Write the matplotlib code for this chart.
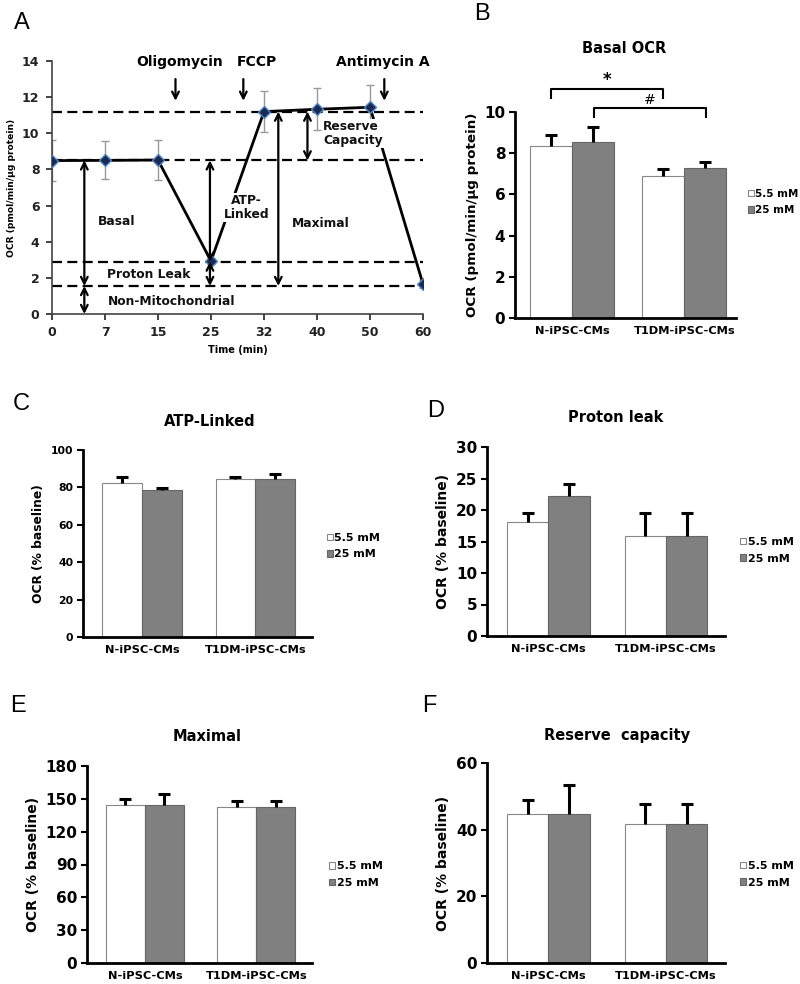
import numpy as np
import matplotlib
matplotlib.use("Agg")
import matplotlib.pyplot as plt

plt.rcParams['font.family'] = ['DejaVu Sans']
plt.rcParams['font.weight'] = 'bold'

# panel A: seahorse trace
times = ['0', '7', '15', '25', '32', '40', '50', '60']
ocr_mean = [8.49, 8.50, 8.52, 2.93, 11.20, 11.33, 11.44, 1.66]
ocr_sd = [1.15, 1.05, 1.10, 0.15, 1.15, 1.17, 1.25, 0.20]
levels = [11.2, 8.5, 2.9, 1.55]

# bar panels B-F
groups = ['N-iPSC-CMs', 'T1DM-iPSC-CMs']
conditions = ['5.5 mM', '25 mM']

basal_low = [8.36, 6.90]
basal_low_err = [0.54, 0.33]
basal_high = [8.56, 7.27]
basal_high_err = [0.73, 0.29]

atp_low = [82.2, 84.6]
atp_low_err = [3.5, 0.8]
atp_high = [78.4, 84.5]
atp_high_err = [1.4, 2.6]

leak_low = [18.1, 15.9]
leak_low_err = [1.4, 3.6]
leak_high = [22.2, 15.9]
leak_high_err = [1.9, 3.6]

max_low = [144.6, 142.2]
max_low_err = [5.2, 5.8]
max_high = [144.6, 142.2]
max_high_err = [9.4, 5.8]

res_low = [44.7, 41.7]
res_low_err = [4.1, 6.0]
res_high = [44.7, 41.7]
res_high_err = [8.6, 6.0]

W, H = 800, 984
fig = plt.figure(figsize=(W / 100, H / 100), dpi=100)


def px_axes(left, right, bottom, top):
    return fig.add_axes([left / W, 1 - bottom / H, (right - left) / W, (bottom - top) / H])


# ---------- panel A ----------
ax = px_axes(52, 423, 314, 61)
x = np.arange(len(times))
for lv in levels:
    ax.plot([0, 7], [lv, lv], color='black', ls=(0, (4.5, 2.4)), lw=1.6, zorder=1)
ax.errorbar(x, ocr_mean, yerr=ocr_sd, fmt='none', ecolor='#999999', elinewidth=1, capsize=3, zorder=2)
ax.plot(x, ocr_mean, color='black', lw=2, zorder=3)
ax.plot(x, ocr_mean, ls='none', marker='D', ms=6, mfc='#1b2a52', mec='#4f86c6', mew=1, zorder=4)

arrow_kw = dict(arrowstyle='<->', color='black', lw=1.6, mutation_scale=12, shrinkA=0, shrinkB=0)
for xa, y0, y1 in [(0.61, 8.5, 1.55), (0.61, 1.55, 0), (2.98, 8.5, 2.9), (2.98, 2.9, 1.55),
                   (4.27, 11.2, 1.55), (4.82, 11.2, 8.5)]:
    ax.annotate('', xy=(xa, y1), xytext=(xa, y0), arrowprops=arrow_kw, zorder=5)

down_kw = dict(arrowstyle='->', color='black', lw=1.6, mutation_scale=12, shrinkA=0, shrinkB=0)
for xa in [2.33, 3.61, 6.27]:
    ax.annotate('', xy=(xa, 11.8), xytext=(xa, 13.0), arrowprops=down_kw, annotation_clip=False)

txt = dict(fontsize=8.8, fontweight='bold', color='#111111')
ax.text(1.21, 5.1, 'Basal', ha='center', va='center', **txt)
ax.text(1.82, 2.2, 'Proton Leak', ha='center', va='center', **txt)
ax.text(2.25, 0.68, 'Non-Mitochondrial', ha='center', va='center', **txt)
ax.text(3.67, 5.9, 'ATP-\nLinked', ha='center', va='center', linespacing=1.1, zorder=6,
        bbox=dict(facecolor='white', edgecolor='none', pad=0.5), **txt)
ax.text(5.08, 5.0, 'Maximal', ha='center', va='center', **txt)
ax.text(5.12, 10.0, 'Reserve\nCapacity', ha='left', va='center', linespacing=1.1, zorder=6,
        bbox=dict(facecolor='white', edgecolor='none', pad=0.5), **txt)
ax.text(2.4, 13.96, 'Oligomycin', ha='center', va='center', fontsize=10, fontweight='bold')
ax.text(3.87, 13.96, 'FCCP', ha='center', va='center', fontsize=10, fontweight='bold')
ax.text(6.25, 13.96, 'Antimycin A', ha='center', va='center', fontsize=10, fontweight='bold', clip_on=False)

ax.set_xlim(0, 7)
ax.set_ylim(0, 14)
ax.set_xticks(x)
ax.set_xticklabels(times)
ax.set_yticks(range(0, 15, 2))
for s in ['top', 'right']:
    ax.spines[s].set_visible(False)
for s in ['left', 'bottom']:
    ax.spines[s].set_color('#444444')
    ax.spines[s].set_linewidth(1.2)
ax.tick_params(labelsize=9, colors='#222222', length=4, width=1.2, pad=5)
for lab in ax.get_xticklabels() + ax.get_yticklabels():
    lab.set_fontweight('bold')
ax.set_xlabel('Time (min)', fontsize=7, fontweight='bold', labelpad=4)
ax.set_ylabel('OCR (pmol/min/µg protein)', fontsize=6.6, fontweight='bold', labelpad=4)


# ---------- bar panels ----------
def top_errorbar(a, xs, ys, errs):
    eb = a.errorbar(xs, ys, yerr=[np.zeros(len(errs)), errs], fmt='none', ecolor='black',
                    elinewidth=2.2, capsize=4, capthick=2.2, zorder=3)
    eb[1][0].set_visible(False)  # lower cap sits on the bar top, hide it


def bar_panel(box, low, low_err, high, high_err, ymax, ystep, ylabel, title, title_pos,
              leg_pos, xlim=(-0.52, 1.5), bw=0.35, tick_fs=11, ylab_fs=10, leg_fs=8):
    a = px_axes(*box)
    pos = np.arange(len(groups))
    a.bar(pos - bw / 2, low, bw, color='white', edgecolor='#888888', lw=0.8, label=conditions[0], zorder=2)
    a.bar(pos + bw / 2, high, bw, color='#808080', edgecolor='#666666', lw=0.8, label=conditions[1], zorder=2)
    top_errorbar(a, pos - bw / 2, low, low_err)
    top_errorbar(a, pos + bw / 2, high, high_err)
    a.set_xlim(*xlim)
    a.set_ylim(0, ymax)
    a.set_yticks(np.arange(0, ymax + 0.01, ystep))
    a.set_xticks(pos)
    a.set_xticklabels(groups, fontsize=8.2, fontweight='bold')
    a.tick_params(axis='x', length=0, pad=6)
    a.tick_params(axis='y', labelsize=tick_fs, length=4, width=1.5, pad=3)
    for lab in a.get_yticklabels():
        lab.set_fontweight('bold')
    for s in ['top', 'right']:
        a.spines[s].set_visible(False)
    for s in ['left', 'bottom']:
        a.spines[s].set_linewidth(2)
    a.set_ylabel(ylabel, fontsize=ylab_fs, fontweight='bold', labelpad=4)
    a.text(title_pos[0], title_pos[1], title, transform=a.transAxes, ha='center', va='center',
           fontsize=10.5, fontweight='bold')
    a.legend(loc='center left', bbox_to_anchor=leg_pos, frameon=False, handlelength=0.55,
             handleheight=0.55, handletextpad=0.15, labelspacing=0.6, borderpad=0,
             prop={'size': leg_fs, 'weight': 'bold'})
    return a


axB = bar_panel((515, 736, 318, 112), basal_low, basal_low_err, basal_high, basal_high_err,
                10, 2, 'OCR (pmol/min/µg protein)', 'Basal OCR', (0.493, 1.31), (1.03, 0.563),
                xlim=(-0.51, 1.46), bw=0.375, tick_fs=11, ylab_fs=9.7, leg_fs=7.5)
# significance brackets
br = dict(color='black', lw=1.5, clip_on=False)
axB.plot([-0.19, -0.19, 0.81, 0.81], [10.7, 11.1, 11.1, 10.7], **br)
axB.text(0.31, 11.55, '*', ha='center', va='center', fontsize=12, fontweight='bold')
axB.plot([0.19, 0.19, 1.19, 1.19], [9.77, 10.2, 10.2, 9.77], **br)
axB.text(0.69, 10.6, '#', ha='center', va='center', fontsize=10, fontweight='normal')

bar_panel((83, 312, 637, 450), atp_low, atp_low_err, atp_high, atp_high_err,
          100, 20, 'OCR (% baseline)', 'ATP-Linked', (0.555, 1.15), (1.04, 0.486),
          tick_fs=7.8, ylab_fs=8.8)
bar_panel((487, 725, 636, 447), leak_low, leak_low_err, leak_high, leak_high_err,
          30, 5, 'OCR (% baseline)', 'Proton leak', (0.542, 1.157), (1.04, 0.454))
bar_panel((87, 312, 963, 766), max_low, max_low_err, max_high, max_high_err,
          180, 30, 'OCR (% baseline)', 'Maximal', (0.533, 1.149), (1.05, 0.448))
bar_panel((487, 725, 963, 763), res_low, res_low_err, res_high, res_high_err,
          60, 20, 'OCR (% baseline)', 'Reserve  capacity', (0.546, 1.138), (1.04, 0.443))

# panel letters
for letter, (px, py) in {'A': (22, 23), 'B': (482, 14), 'C': (21, 404),
                         'D': (436, 411), 'E': (18, 706), 'F': (429, 706)}.items():
    fig.text(px / W, 1 - py / H, letter, ha='center', va='center', fontsize=17,
             fontweight='normal', family='Liberation Sans')

fig.savefig('out.png', dpi=100)
